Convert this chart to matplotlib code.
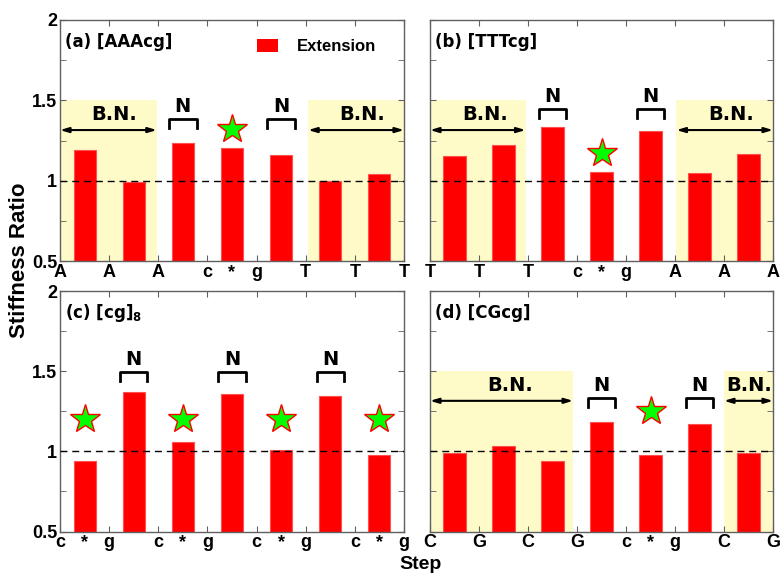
import matplotlib
matplotlib.use('Agg')
import matplotlib.pyplot as plt
import numpy as np
from matplotlib.patches import Patch

# step labels on integer ticks; '*' sits between c and g
steps_a = ['A', 'A', 'A', 'c', 'g', 'T', 'T', 'T']
steps_b = ['T', 'T', 'T', 'c', 'g', 'A', 'A', 'A']
steps_c = ['c', 'g', 'c', 'g', 'c', 'g', 'c', 'g']
steps_d = ['C', 'G', 'C', 'G', 'c', 'g', 'C', 'G']

star_a = [3.5]
star_b = [3.5]
star_c = [0.5, 2.5, 4.5, 6.5]
star_d = [4.5]

# extension stiffness ratio per step
ext_a = [1.19, 0.99, 1.235, 1.205, 1.16, 0.995, 1.04]
ext_b = [1.155, 1.222, 1.332, 1.054, 1.307, 1.048, 1.166]
ext_c = [0.938, 1.371, 1.06, 1.359, 1.008, 1.342, 0.979]
ext_d = [0.99, 1.036, 0.937, 1.182, 0.975, 1.172, 0.988]

titles = ['(a) [AAAcg]', '(b) [TTTcg]', '(c) [cg]$_\\mathbf{8}$', '(d) [CGcg]']

# star heights, B.N. regions and N brackets
star_h = [1.32, 1.17, 1.2, 1.25]
bn_spans = [[(0, 1.97), (5.05, 7)], [(0, 1.95), (5.03, 7)], [], [(0, 2.92), (6.0, 7)]]
bn_text_x = [[1.1, 6.15], [1.12, 6.14], [], [1.63, 6.52]]
n_pos = [[2.5, 4.5], [2.5, 4.5], [1.5, 3.5, 5.5], [3.5, 5.5]]
n_top = [1.384, 1.446, 1.496, 1.331]

W, H = 782, 573
fig = plt.figure(figsize=(W / 100, H / 100), dpi=100)

boxes = [(60, 20, 404, 261), (430, 20, 773, 261), (60, 291, 404, 531.5), (430, 291, 773, 531.5)]
axs = []
for (x0, y0, x1, y1) in boxes:
    axs.append(fig.add_axes([x0 / W, 1 - y1 / H, (x1 - x0) / W, (y1 - y0) / H]))

tickfont = dict(family='Liberation Sans', weight='bold', size=13)
annfont = dict(family='DejaVu Sans', weight='bold', size=14)

data = [(steps_a, star_a, ext_a), (steps_b, star_b, ext_b),
        (steps_c, star_c, ext_c), (steps_d, star_d, ext_d)]

for i, ax in enumerate(axs):
    steps, stars, ext = data[i]
    pos = np.arange(len(ext)) + 0.5

    # yellow background for B.N. regions
    for (s0, s1) in bn_spans[i]:
        ax.axvspan(s0, s1, ymin=0, ymax=(1.5 - 0.5) / 1.5, color='#fffbc9', lw=0, zorder=0)

    ax.bar(pos, np.array(ext) - 0.5, bottom=0.5, width=0.45, color='red',
           edgecolor='#ff5050', lw=0.8, zorder=2, label='Extension')
    ax.axhline(1.0, color='black', ls=(0, (5, 3.5)), lw=1, zorder=3)

    ax.plot(stars, [star_h[i]] * len(stars), ls='none', marker='*', ms=22,
            mfc='#00ff00', mec='red', mew=1, zorder=4)

    for (s0, s1), tx in zip(bn_spans[i], bn_text_x[i]):
        ax.annotate('', xy=(s0, 1.315), xytext=(s1, 1.315),
                    arrowprops=dict(arrowstyle='<|-|>,head_length=0.5,head_width=0.15',
                                    color='black', lw=1.5, shrinkA=0, shrinkB=0))
        ax.text(tx, 1.41, 'B.N.', ha='center', va='center', **annfont)

    for p in n_pos[i]:
        t = n_top[i]
        ax.plot([p - 0.28, p - 0.28, p + 0.28, p + 0.28], [t - 0.055, t, t, t - 0.055],
                color='black', lw=2, zorder=4)
        ax.text(p, t + 0.077, 'N', ha='center', va='center', **annfont)

    ax.text(0.015, 0.91, titles[i], transform=ax.transAxes, ha='left', va='center',
            family='DejaVu Sans', weight='bold', size=12)

    ax.set_xlim(0, 7)
    ax.set_ylim(0.5, 2)
    ax.set_xticks(range(8))
    ax.set_xticklabels(steps, **tickfont)
    ax.set_xticks(stars, minor=True)
    ax.set_xticklabels(['*'] * len(stars), minor=True, **tickfont)
    ax.set_yticks([0.5, 1, 1.5, 2])
    ax.set_yticks([0.75, 1.25, 1.75], minor=True)
    if i % 2 == 0:
        ax.set_yticklabels(['0.5', '1', '1.5', '2'], **tickfont)
    else:
        ax.set_yticklabels([])
    ax.tick_params(which='both', direction='in', top=True, right=True, length=4,
                   color='#606060', pad=2)
    ax.tick_params(axis='x', which='minor', length=0)
    for sp in ax.spines.values():
        sp.set_color('#606060')
        sp.set_linewidth(1)

axs[0].legend(handles=[Patch(facecolor='red', edgecolor='none')], labels=['Extension'],
              loc='upper left', bbox_to_anchor=(0.572, 0.92), frameon=False,
              borderpad=0, borderaxespad=0, handlelength=1.3, handleheight=0.75,
              handletextpad=1.1, prop=dict(family='Liberation Sans', weight='bold', size=12))

fig.text(20 / W, 1 - 260 / H, 'Stiffness Ratio', rotation=90, ha='center', va='center',
         family='Liberation Sans', weight='bold', size=16)
fig.text(420 / W, 1 - 569 / H, 'Step', ha='center', va='baseline',
         family='Liberation Sans', weight='bold', size=14)

fig.savefig('out.png', dpi=100)
